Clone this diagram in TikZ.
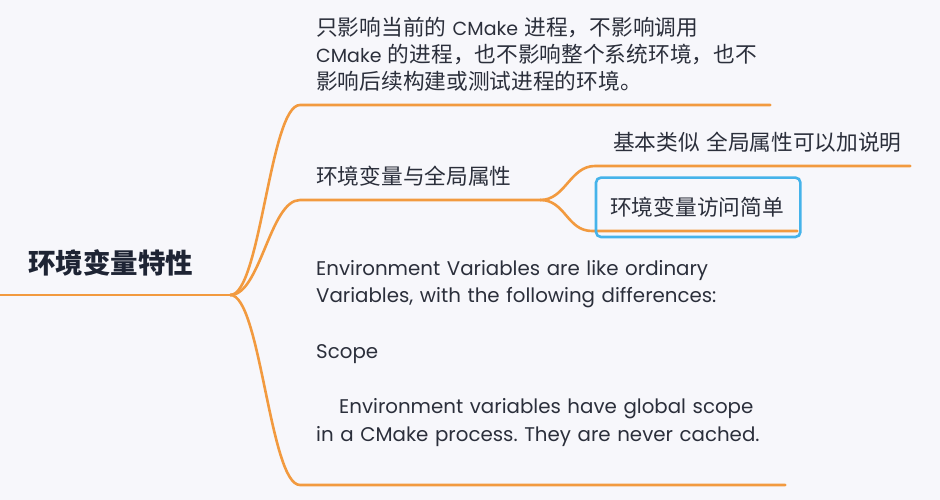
\documentclass[tikz,border=0pt]{standalone}
\usepackage{fontspec}
\setmainfont{Poppins}
\newfontfamily\cjk{Noto Sans CJK SC}
\usetikzlibrary{positioning}

\definecolor{bgpaper}{HTML}{F7F7FB}
\definecolor{inkdark}{HTML}{2B2F3B}
\definecolor{rootink}{HTML}{1E2434}
\definecolor{branchorange}{HTML}{F29A3F}
\definecolor{selblue}{HTML}{45B3EA}

\newcommand{\zh}[1]{{\cjk\fontsize{21.7}{27}\selectfont #1}}
\frenchspacing

\begin{document}
\begin{tikzpicture}[
    x=1pt, y=-1pt,
    roottopic/.style={anchor=south west, inner xsep=28pt, inner ysep=12pt, text width=174pt, align=left, text=rootink, font=\cjk\bfseries\fontsize{27.5}{32}\selectfont, execute at end node=\strut},
    topic/.style={anchor=south west, inner xsep=16pt, inner ysep=7.5pt, align=left, text=inkdark, font=\fontsize{19}{27}\selectfont, execute at end node=\strut},
    subtopic/.style={topic, inner xsep=18pt},
    note/.style={topic, font=\fontsize{19.8}{27.7}\selectfont},
    branch/.style={draw=branchorange, line width=2.6pt, line cap=round},
    selbox/.style={draw=selblue, line width=2.6pt, rounded corners=5pt}
]
% canvas
\fill[bgpaper] (0,0) rectangle (940,500);
\useasboundingbox (0,0) rectangle (940,500);

% topics
\node[roottopic] (root) at (0,295) {环境变量特性};
\node[topic, text width=438pt] (scope) at (300,105) {\zh{只影响当前的} CMake \zh{进程，不影响调用}\\ CMake \zh{的进程，也不影响整个系统环境，也不}\\ \zh{影响后续构建或测试进程的环境。}};
\node[topic, text width=208pt] (global) at (300,200) {\zh{环境变量与全局属性}};
\node[subtopic, text width=279pt] (similar) at (595,166) {\zh{基本类似~全局属性可以加说明}};
\node[subtopic, text width=169pt] (access) at (592,231) {\zh{环境变量访问简单}};
\node[note, text width=453pt] (diff) at (300,485) {Environment Variables are like ordinary\\ Variables, with the following differences:\\ \strut\\ Scope\\ \strut\\ \hspace*{23pt}Environment variables have global scope\\ in a CMake process. They are never cached.\\ \strut};

% branches
\draw[branch] (root.south west) -- (root.south east);
\draw[branch] (root.south east) .. controls +(30,0) and +(-30,0) .. (scope.south west) -- (scope.south east);
\draw[branch] (root.south east) .. controls +(30,0) and +(-30,0) .. (global.south west) -- (global.south east);
\draw[branch] (root.south east) .. controls +(30,0) and +(-30,0) .. (diff.south west) -- (diff.south east);
\draw[branch] (global.south east) .. controls +(25,0) and +(-25,0) .. (similar.south west) -- (similar.south east);
\draw[branch] (global.south east) .. controls +(25,0) and +(-25,0) .. (access.south west) -- (access.south east);

% selection
\draw[selbox] ([shift={(4pt,-6pt)}]access.south west) rectangle ([shift={(3pt,11pt)}]access.north east);
\end{tikzpicture}
\end{document}
